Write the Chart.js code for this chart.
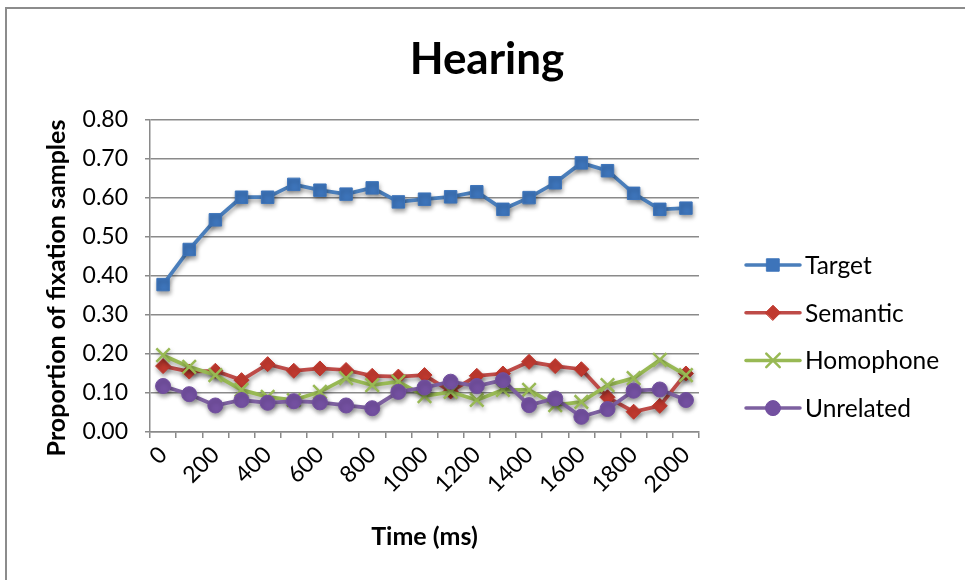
<!DOCTYPE html>
<html>
<head>
<meta charset="utf-8">
<script src="https://cdn.jsdelivr.net/npm/chart.js@4.4.1/dist/chart.umd.min.js"></script>
<style>
  html, body { margin: 0; padding: 0; background: #fff; }
  canvas { display: block; }
</style>
</head>
<body>
<canvas id="chart" width="965" height="580"></canvas>
<script>
// Time bins (ms) along the x axis
const timesMs = ['0','100','200','300','400','500','600','700','800','900','1000',
                 '1100','1200','1300','1400','1500','1600','1700','1800','1900','2000'];

// Proportion of fixation samples per picture type
const target    = [0.378,0.468,0.544,0.602,0.602,0.635,0.620,0.610,0.626,0.590,0.597,
                   0.603,0.616,0.571,0.601,0.639,0.690,0.670,0.612,0.571,0.574];
const semantic  = [0.169,0.155,0.157,0.133,0.174,0.157,0.163,0.159,0.144,0.142,0.146,
                   0.104,0.144,0.150,0.180,0.169,0.161,0.089,0.052,0.067,0.150];
const homophone = [0.197,0.167,0.146,0.108,0.090,0.082,0.103,0.138,0.120,0.129,0.092,
                   0.103,0.082,0.108,0.108,0.069,0.077,0.120,0.138,0.185,0.146];
const unrelated = [0.118,0.097,0.068,0.082,0.075,0.079,0.076,0.068,0.061,0.103,0.114,
                   0.129,0.118,0.133,0.069,0.086,0.039,0.059,0.106,0.109,0.082];

const seriesNames = ['Target', 'Semantic', 'Homophone', 'Unrelated'];
const chartTitle = 'Hearing';
const yTitle = 'Proportion of fixation samples';
const xTitle = 'Time (ms)';

const FONT = 'Lato, "Open Sans", sans-serif';
const GRID = '#8a8a8a';

function series(label, data, line, fill, style, radius, order, bw) {
  return {
    label, data, order,
    borderColor: line,
    borderWidth: 3.75,
    tension: 0,
    pointStyle: style,
    pointRadius: radius,
    pointHoverRadius: radius,
    pointBackgroundColor: fill,
    pointBorderColor: style === 'crossRot' ? line : fill,
    pointBorderWidth: bw
  };
}

// Soft drop shadow under the series lines and markers
const shadowPlugin = {
  id: 'seriesShadow',
  beforeDatasetsDraw(chart) {
    const ctx = chart.ctx;
    ctx.save();
    ctx.shadowColor = 'rgba(0,0,0,0.35)';
    ctx.shadowBlur = 4;
    ctx.shadowOffsetX = 1;
    ctx.shadowOffsetY = 3;
  },
  afterDatasetsDraw(chart) {
    chart.ctx.restore();
  }
};

// Frame, title, rotated y title and the line+marker legend
const decorPlugin = {
  id: 'decor',
  beforeDraw(chart) {
    const ctx = chart.ctx;
    ctx.save();
    ctx.fillStyle = '#fff';
    ctx.fillRect(0, 0, chart.width, chart.height);
    ctx.strokeStyle = '#8c8c8c';
    ctx.lineWidth = 2;
    ctx.beginPath();
    ctx.moveTo(6, chart.height + 5);
    ctx.lineTo(6, 8);
    ctx.lineTo(chart.width + 5, 8);
    ctx.stroke();
    ctx.restore();
  },
  afterDraw(chart) {
    const ctx = chart.ctx;
    ctx.save();
    ctx.fillStyle = '#000';
    ctx.textAlign = 'center';
    ctx.textBaseline = 'middle';
    ctx.font = 'bold 44px ' + FONT;
    ctx.fillText(chartTitle, 487, 60);

    ctx.save();
    ctx.translate(57, 288);
    ctx.rotate(-Math.PI / 2);
    ctx.font = 'bold 25px ' + FONT;
    ctx.fillText(yTitle, 0, 0);
    ctx.restore();

    const x0 = 746, x1 = 800, y0 = 265, dy = 47.7;
    chart.data.datasets.forEach((ds, i) => {
      const y = y0 + dy * i;
      ctx.save();
      ctx.strokeStyle = ds.borderColor;
      ctx.lineWidth = 3.5;
      ctx.lineCap = 'round';
      ctx.beginPath();
      ctx.moveTo(x0, y);
      ctx.lineTo(x1, y);
      ctx.stroke();
      ctx.fillStyle = ds.pointBackgroundColor;
      ctx.strokeStyle = ds.pointBorderColor;
      ctx.lineWidth = ds.pointBorderWidth;
      Chart.helpers.drawPoint(ctx, {
        pointStyle: ds.pointStyle,
        radius: ds.pointRadius,
        rotation: 0,
        borderWidth: ds.pointBorderWidth
      }, (x0 + x1) / 2, y);
      ctx.restore();
      ctx.fillStyle = '#000';
      ctx.textAlign = 'left';
      ctx.font = '24.5px ' + FONT;
      ctx.fillText(ds.label, 805, y + 1);
    });
    ctx.restore();
  }
};

new Chart(document.getElementById('chart'), {
  type: 'line',
  data: {
    labels: timesMs,
    datasets: [
      series(seriesNames[0], target,    '#4A7EBB', '#3D74BA', 'rect',     8.8, 4, 1),
      series(seriesNames[1], semantic,  '#BE4B48', '#C0392F', 'rectRot',  7.5, 3, 1),
      series(seriesNames[2], homophone, '#98B954', '#98B954', 'crossRot', 9.5, 2, 2.5),
      series(seriesNames[3], unrelated, '#7D60A0', '#7350A0', 'circle',   7.5, 1, 1)
    ]
  },
  options: {
    responsive: false,
    animation: false,
    events: [],
    layout: { padding: { top: 120, left: 0, right: 266, bottom: 0 } },
    plugins: {
      legend: { display: false },
      title: { display: false },
      tooltip: { enabled: false }
    },
    scales: {
      x: {
        type: 'category',
        offset: true,
        afterFit(scale) { scale.height = 148; },
        grid: {
          offset: true,
          drawOnChartArea: false,
          color: GRID,
          lineWidth: 1.5,
          tickLength: 6
        },
        border: { color: GRID, width: 1.5 },
        ticks: {
          autoSkip: false,
          maxRotation: 45,
          minRotation: 45,
          padding: 3,
          color: '#000',
          font: { family: FONT, size: 23 },
          callback(value, index) {
            return index % 2 === 0 ? this.getLabelForValue(value) : '';
          }
        },
        title: {
          display: true,
          text: xTitle,
          color: '#000',
          font: { family: FONT, size: 25, weight: 'bold' },
          padding: { top: 0, bottom: 28 }
        }
      },
      y: {
        min: 0,
        max: 0.8,
        afterFit(scale) { scale.width = 150; },
        grid: {
          color: GRID,
          lineWidth: 1.5,
          tickLength: 5
        },
        border: { color: GRID, width: 1.5 },
        ticks: {
          stepSize: 0.1,
          padding: 17,
          color: '#000',
          font: { family: FONT, size: 23 },
          callback(value) { return Number(value).toFixed(2); }
        }
      }
    }
  },
  plugins: [shadowPlugin, decorPlugin]
});
</script>
</body>
</html>
